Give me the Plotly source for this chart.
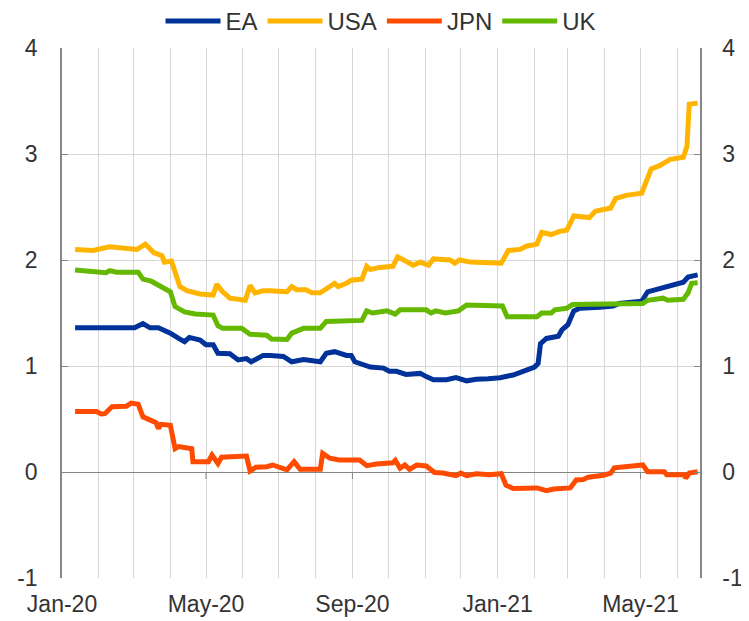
import plotly.graph_objects as go

# ---------------- data ----------------
usa_dates = ["2020-01-12","2020-01-27","2020-02-10","2020-03-04","2020-03-11","2020-03-18","2020-03-25","2020-03-27",
             "2020-04-02","2020-04-05","2020-04-09","2020-04-15","2020-04-26","2020-05-07","2020-05-10","2020-05-15",
             "2020-05-21","2020-06-03","2020-06-07","2020-06-11","2020-06-18","2020-06-24","2020-07-01","2020-07-08",
             "2020-07-12","2020-07-16","2020-07-24","2020-07-29","2020-08-05","2020-08-10","2020-08-17","2020-08-20",
             "2020-08-27","2020-08-31","2020-09-09","2020-09-13","2020-09-16","2020-09-24","2020-10-05","2020-10-09",
             "2020-10-14","2020-10-22","2020-10-28","2020-11-04","2020-11-08","2020-11-22","2020-11-26","2020-11-30",
             "2020-12-09","2020-12-17","2020-12-24","2021-01-04","2021-01-10","2021-01-20","2021-01-25","2021-02-03",
             "2021-02-07","2021-02-15","2021-02-22","2021-02-28","2021-03-06","2021-03-19","2021-03-24","2021-04-06",
             "2021-04-10","2021-04-19","2021-05-02","2021-05-06","2021-05-10","2021-05-17","2021-05-26","2021-06-06",
             "2021-06-09","2021-06-11","2021-06-18"]
usa_values = [2.10,2.09,2.125,2.10,2.15,2.07,2.04,1.98,
              1.99,1.87,1.75,1.71,1.68,1.67,1.77,1.70,
              1.64,1.62,1.76,1.69,1.71,1.71,1.70,1.70,
              1.75,1.72,1.72,1.69,1.69,1.73,1.78,1.75,
              1.78,1.81,1.82,1.94,1.91,1.93,1.94,2.03,
              2.00,1.95,1.98,1.95,2.01,2.00,1.97,2.00,
              1.98,1.975,1.97,1.97,2.09,2.10,2.13,2.15,
              2.26,2.24,2.27,2.28,2.415,2.40,2.46,2.49,
              2.58,2.61,2.63,2.75,2.86,2.89,2.95,2.97,
              3.07,3.47,3.48]

ea_dates = ["2020-01-12","2020-02-04","2020-02-15","2020-03-02","2020-03-09","2020-03-15","2020-03-22","2020-04-01",
            "2020-04-08","2020-04-13","2020-04-17","2020-04-26","2020-05-01","2020-05-07","2020-05-11","2020-05-21",
            "2020-05-28","2020-06-04","2020-06-08","2020-06-18","2020-06-24","2020-07-05","2020-07-12","2020-07-22",
            "2020-08-05","2020-08-10","2020-08-17","2020-08-27","2020-08-31","2020-09-03","2020-09-16","2020-09-27",
            "2020-10-02","2020-10-08","2020-10-16","2020-10-28","2020-11-02","2020-11-08","2020-11-19","2020-11-27",
            "2020-12-06","2020-12-14","2020-12-24","2021-01-03","2021-01-14","2021-01-22","2021-02-01","2021-02-04",
            "2021-02-06","2021-02-11","2021-02-21","2021-02-24","2021-03-01","2021-03-06","2021-03-11","2021-03-28",
            "2021-04-08","2021-04-13","2021-05-02","2021-05-07","2021-05-17","2021-05-28","2021-06-06","2021-06-10",
            "2021-06-18"]
ea_values = [1.36,1.36,1.37,1.36,1.40,1.36,1.36,1.31,
             1.26,1.23,1.27,1.245,1.20,1.20,1.12,1.115,
             1.057,1.07,1.04,1.10,1.10,1.09,1.04,1.06,
             1.04,1.12,1.135,1.10,1.10,1.04,0.99,0.98,
             0.95,0.95,0.92,0.93,0.90,0.87,0.87,0.89,
             0.86,0.875,0.88,0.89,0.915,0.946,0.99,1.025,
             1.21,1.26,1.28,1.34,1.39,1.52,1.545,1.555,
             1.566,1.59,1.61,1.70,1.73,1.76,1.79,1.84,
             1.86]

uk_dates = ["2020-01-12","2020-01-27","2020-02-07","2020-02-10","2020-02-16","2020-03-05","2020-03-09","2020-03-16",
            "2020-03-23","2020-04-01","2020-04-05","2020-04-13","2020-04-22","2020-05-07","2020-05-11","2020-05-15",
            "2020-05-31","2020-06-07","2020-06-21","2020-06-25","2020-07-08","2020-07-12","2020-07-22","2020-08-05",
            "2020-08-10","2020-09-06","2020-09-09","2020-09-13","2020-09-18","2020-09-30","2020-10-07","2020-10-11",
            "2020-11-02","2020-11-06","2020-11-10","2020-11-18","2020-11-29","2020-12-06","2020-12-17","2021-01-05",
            "2021-01-09","2021-01-22","2021-02-03","2021-02-07","2021-02-15","2021-02-18","2021-02-28","2021-03-05",
            "2021-03-19","2021-04-02","2021-04-16","2021-05-03","2021-05-07","2021-05-20","2021-05-24","2021-06-06",
            "2021-06-10","2021-06-13","2021-06-18"]
uk_values = [1.906,1.89,1.88,1.90,1.885,1.885,1.82,1.80,
             1.755,1.70,1.56,1.51,1.49,1.48,1.38,1.355,
             1.355,1.30,1.29,1.255,1.25,1.31,1.355,1.355,
             1.42,1.42,1.43,1.52,1.50,1.52,1.49,1.53,
             1.53,1.50,1.52,1.50,1.52,1.575,1.57,1.566,
             1.465,1.46,1.465,1.50,1.50,1.53,1.545,1.58,
             1.58,1.59,1.585,1.59,1.62,1.64,1.62,1.63,
             1.69,1.78,1.785]

jpn_dates = ["2020-01-12","2020-01-30","2020-02-03","2020-02-06","2020-02-12","2020-02-24","2020-02-28","2020-03-05",
             "2020-03-09","2020-03-15","2020-03-20","2020-03-22","2020-03-24","2020-04-01","2020-04-05","2020-04-08",
             "2020-04-19","2020-04-20","2020-05-03","2020-05-06","2020-05-11","2020-05-14","2020-05-24","2020-06-04",
             "2020-06-07","2020-06-12","2020-06-21","2020-06-26","2020-07-08","2020-07-14","2020-07-19","2020-08-05",
             "2020-08-07","2020-08-13","2020-08-21","2020-09-07","2020-09-13","2020-09-21","2020-10-05","2020-10-07",
             "2020-10-11","2020-10-15","2020-10-19","2020-10-25","2020-11-02","2020-11-09","2020-11-16","2020-11-27",
             "2020-12-01","2020-12-06","2020-12-14","2020-12-25","2021-01-04","2021-01-08","2021-01-14","2021-02-03",
             "2021-02-11","2021-02-17","2021-03-03","2021-03-08","2021-03-14","2021-03-18","2021-03-31","2021-04-06",
             "2021-04-09","2021-04-19","2021-05-03","2021-05-07","2021-05-21","2021-05-23","2021-06-07","2021-06-08",
             "2021-06-11","2021-06-18"]
jpn_values = [0.57,0.57,0.547,0.55,0.616,0.62,0.65,0.64,
              0.52,0.49,0.465,0.41,0.45,0.44,0.22,0.24,
              0.22,0.097,0.097,0.16,0.08,0.14,0.145,0.15,
              0.01,0.045,0.05,0.066,0.02,0.097,0.025,0.025,
              0.176,0.13,0.113,0.113,0.06,0.075,0.087,0.11,
              0.035,0.066,0.025,0.066,0.057,-0.005,-0.01,-0.035,
              -0.01,-0.035,-0.016,-0.025,-0.016,-0.123,-0.155,-0.15,
              -0.176,-0.16,-0.15,-0.075,-0.07,-0.05,-0.03,-0.01,
              0.04,0.05,0.066,0.003,0.003,-0.025,-0.025,-0.06,
              -0.01,0.003]

series_names = ["EA", "USA", "JPN", "UK"]
series_colors = ["#003299", "#FFB400", "#FF4B00", "#65B800"]

tick_dates = ["2020-01-01", "2020-05-01", "2020-09-01", "2021-01-01", "2021-05-01"]
tick_labels = ["Jan-20", "May-20", "Sep-20", "Jan-21", "May-21"]
y_ticks = [-1, 0, 1, 2, 3, 4]
y_tick_labels = ["-1", "0", "1", "2", "3", "4"]
x_range = ["2020-01-01", "2021-06-20"]
y_range = [-1, 4]

# ---------------- figure ----------------
FONT = "Liberation Sans, Arial, sans-serif"
TXT = "#333333"
GRID = "#d6d6d6"
AXIS = "#868686"
FS = 23

fig = go.Figure()
data = {"EA": (ea_dates, ea_values), "USA": (usa_dates, usa_values),
        "JPN": (jpn_dates, jpn_values), "UK": (uk_dates, uk_values)}
draw_order = ["JPN", "EA", "UK", "USA"]
for name in draw_order:
    i = series_names.index(name)
    xs, ys = data[name]
    fig.add_trace(go.Scatter(x=xs, y=ys, mode="lines", name=name,
                             line=dict(color=series_colors[i], width=5),
                             legendrank=i + 1))

# invisible trace to carry right axis
fig.add_trace(go.Scatter(x=[x_range[0]], y=[0], yaxis="y2", mode="markers",
                         marker=dict(opacity=0), showlegend=False, hoverinfo="skip"))

# small tick marks on the zero line
for d in tick_dates[1:]:
    fig.add_shape(type="line", xref="x", yref="y", x0=d, x1=d, y0=0, y1=-0.066,
                  line=dict(color=AXIS, width=1))

# the page body adds an 8px offset; size/margins compensate for it
fig.update_layout(
    width=741, height=613,
    margin=dict(l=54, r=49, t=40, b=43, autoexpand=False),
    paper_bgcolor="white", plot_bgcolor="white",
    font=dict(family=FONT, size=FS, color=TXT),
    showlegend=True,
    legend=dict(orientation="h", x=0.5, xanchor="center", y=1.05, yanchor="middle",
                font=dict(family=FONT, size=FS + 1, color=TXT), itemwidth=55,
                tracegroupgap=0, traceorder="normal", bgcolor="rgba(0,0,0,0)"),
    xaxis=dict(type="date", range=x_range, tickvals=tick_dates, ticktext=tick_labels,
               showgrid=True, gridcolor=GRID, gridwidth=1.4, automargin=False,
               minor=dict(dtick="M1", tick0="2020-01-01", showgrid=True, gridcolor=GRID, gridwidth=1.4),
               showline=False, ticks="", zeroline=False, ticklabelstandoff=10,
               tickfont=dict(family=FONT, size=FS, color=TXT)),
    yaxis=dict(range=y_range, tickvals=y_ticks, ticktext=y_tick_labels, showgrid=True,
               gridcolor=GRID, gridwidth=1.4, automargin=False,
               zeroline=True, zerolinecolor=AXIS, zerolinewidth=1,
               showline=True, linecolor=AXIS, linewidth=1.5, ticks="inside", ticklen=6,
               tickcolor=AXIS, ticklabelstandoff=18,
               tickfont=dict(family=FONT, size=FS, color=TXT)),
    yaxis2=dict(range=y_range, tickvals=y_ticks, ticktext=y_tick_labels, overlaying="y",
                side="right", showgrid=False, automargin=False,
                zeroline=False, showline=True, linecolor=AXIS, linewidth=1.5, ticks="inside",
                ticklen=6, tickcolor=AXIS, ticklabelstandoff=16,
                tickfont=dict(family=FONT, size=FS, color=TXT)),
)

fig.write_html("out.html")
